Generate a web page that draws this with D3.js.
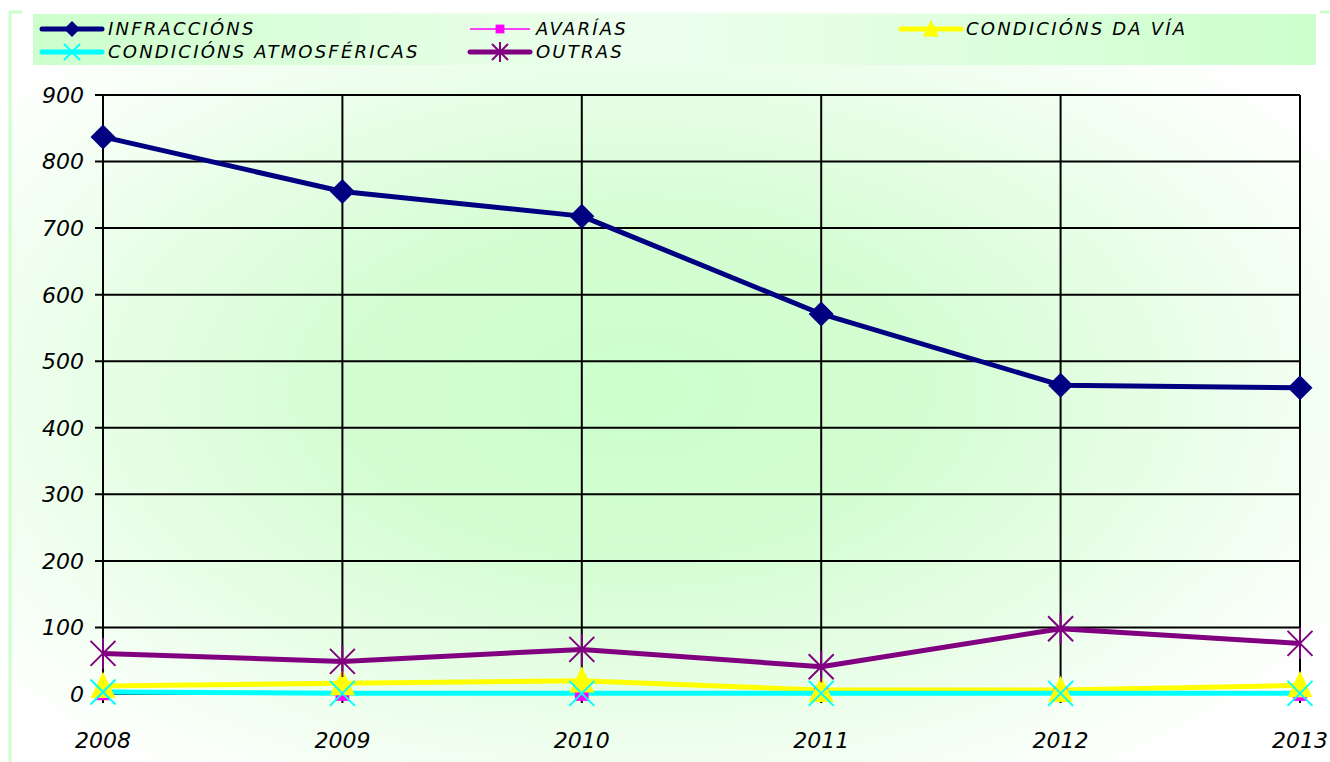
<!DOCTYPE html>
<meta charset="utf-8">
<style>
body { margin: 0; background: #fff; }
text { font-family: "DejaVu Sans", sans-serif; font-style: italic; fill: #000; }
</style>
<svg width="1330" height="762"></svg>
<script src="https://cdn.jsdelivr.net/npm/d3@7"></script>
<script>

// Data
var years = ["2008", "2009", "2010", "2011", "2012", "2013"];
var yTicks = [0, 100, 200, 300, 400, 500, 600, 700, 800, 900];

var infraccions = [837, 755, 718, 571, 464, 460];
var avarias     = [1, 0, 0, 1, 1, 0];
var condVia     = [12, 16, 20, 6, 6, 13];
var condAtmos   = [3, 1, 1, 1, 1, 1];
var outras      = [61, 49, 67, 41, 98, 76];

var series = [
  {name: "INFRACCIÓNS", values: infraccions, color: "#000080", width: 5, marker: "diamond"},
  {name: "AVARÍAS", values: avarias, color: "#ff00ff", width: 1.5, marker: "square"},
  {name: "CONDICIÓNS DA VÍA", values: condVia, color: "#ffff00", width: 5, marker: "triangle"},
  {name: "CONDICIÓNS ATMOSFÉRICAS", values: condAtmos, color: "#00ffff", width: 5, marker: "x"},
  {name: "OUTRAS", values: outras, color: "#800080", width: 5, marker: "star"}
];

var svg = d3.select("svg");
var defs = svg.append("defs");

// backgrounds
var rg = defs.append("radialGradient").attr("id", "bg")
    .attr("cx", "47%").attr("cy", "50%").attr("r", "62%");
rg.append("stop").attr("offset", "0%").attr("stop-color", "#ccffcc");
rg.append("stop").attr("offset", "35%").attr("stop-color", "#d4fdd2");
rg.append("stop").attr("offset", "100%").attr("stop-color", "#ffffff");

var lg = defs.append("linearGradient").attr("id", "leg");
lg.append("stop").attr("offset", "0%").attr("stop-color", "#ccffcc");
lg.append("stop").attr("offset", "48%").attr("stop-color", "#eefeee");
lg.append("stop").attr("offset", "100%").attr("stop-color", "#ccffcc");

svg.append("rect").attr("x", 9).attr("y", 12).attr("width", 1330).attr("height", 760)
    .attr("fill", "url(#bg)");
svg.append("path").attr("d", "M10,762V12H22").attr("fill", "none")
    .attr("stroke", "#ccffcc").attr("stroke-width", 3);
svg.append("path").attr("d", "M1320,12H1330").attr("fill", "none")
    .attr("stroke", "#ccffcc").attr("stroke-width", 3);

// scales
var x = d3.scalePoint().domain(years).range([103, 1300]);
var y = d3.scaleLinear().domain([0, 900]).range([694, 95]);

var g = svg.append("g");

// horizontal grid + y labels
g.selectAll(".hgrid").data(yTicks).enter().append("line")
    .attr("x1", 95).attr("x2", x("2013"))
    .attr("y1", function(d) { return y(d); }).attr("y2", function(d) { return y(d); })
    .attr("stroke", "#000").attr("stroke-width", 2);

g.selectAll(".ylab").data(yTicks).enter().append("text")
    .attr("x", 84).attr("y", function(d) { return y(d); })
    .attr("dy", "0.36em").attr("text-anchor", "end")
    .style("font-size", "22px")
    .text(function(d) { return d; });

// vertical grid + x labels
g.selectAll(".vgrid").data(years).enter().append("line")
    .attr("x1", function(d) { return x(d); }).attr("x2", function(d) { return x(d); })
    .attr("y1", y(900)).attr("y2", y(0) + 9)
    .attr("stroke", "#000").attr("stroke-width", 2);

g.selectAll(".xlab").data(years).enter().append("text")
    .attr("x", function(d) { return x(d); }).attr("y", 748)
    .attr("text-anchor", "middle")
    .style("font-size", "22px")
    .text(function(d) { return d; });

// marker shapes
function drawMarker(sel, type, color, s) {
  if (type === "diamond") {
    sel.append("path").attr("d", "M0," + (-s) + "L" + s + ",0L0," + s + "L" + (-s) + ",0Z").attr("fill", color);
  } else if (type === "square") {
    var h = s * 0.55;
    sel.append("rect").attr("x", -h).attr("y", -h).attr("width", 2 * h).attr("height", 2 * h).attr("fill", color);
  } else if (type === "triangle") {
    sel.append("path").attr("d", "M0," + (-s * 1.15) + "L" + s + "," + (s * 0.95) + "L" + (-s) + "," + (s * 0.95) + "Z").attr("fill", color);
  } else if (type === "x") {
    sel.append("path").attr("d", "M" + (-s) + "," + (-s) + "L" + s + "," + s + "M" + s + "," + (-s) + "L" + (-s) + "," + s)
        .attr("stroke", color).attr("stroke-width", 2).attr("fill", "none");
  } else if (type === "star") {
    sel.append("path").attr("d", "M" + (-s) + "," + (-s) + "L" + s + "," + s + "M" + s + "," + (-s) + "L" + (-s) + "," + s +
        "M0," + (-s * 1.25) + "L0," + (s * 1.25))
        .attr("stroke", color).attr("stroke-width", 2).attr("fill", "none");
  }
}

var line = d3.line()
    .x(function(d, i) { return x(years[i]); })
    .y(function(d) { return y(d); });

// all lines first, then markers (series order)
series.forEach(function(s) {
  g.append("path").attr("d", line(s.values))
      .attr("fill", "none").attr("stroke", s.color)
      .attr("stroke-width", s.width).attr("stroke-linejoin", "round");
});
series.forEach(function(s) {
  s.values.forEach(function(v, i) {
    var m = g.append("g").attr("transform", "translate(" + x(years[i]) + "," + y(v) + ")");
    drawMarker(m, s.marker, s.color, 12.5);
  });
});

// legend
var leg = svg.append("g");
leg.append("rect").attr("x", 33).attr("y", 14).attr("width", 1283).attr("height", 51)
    .attr("fill", "url(#leg)");

var legPos = [
  {cx: 72, y: 29, tx: 108},
  {cx: 500, y: 29, tx: 536},
  {cx: 931, y: 29, tx: 966},
  {cx: 72, y: 52, tx: 108},
  {cx: 500, y: 52, tx: 536}
];

series.forEach(function(s, i) {
  var p = legPos[i];
  leg.append("line").attr("x1", p.cx - 30).attr("x2", p.cx + 30)
      .attr("y1", p.y).attr("y2", p.y)
      .attr("stroke", s.color).attr("stroke-width", s.width)
      .attr("stroke-linecap", s.width > 2 ? "round" : "butt");
  var m = leg.append("g").attr("transform", "translate(" + p.cx + "," + p.y + ")");
  drawMarker(m, s.marker, s.color, 8);
  leg.append("text").attr("x", p.tx).attr("y", p.y).attr("dy", "0.36em")
      .style("font-size", "18px").style("letter-spacing", "2.2px")
      .text(s.name);
});

</script>
